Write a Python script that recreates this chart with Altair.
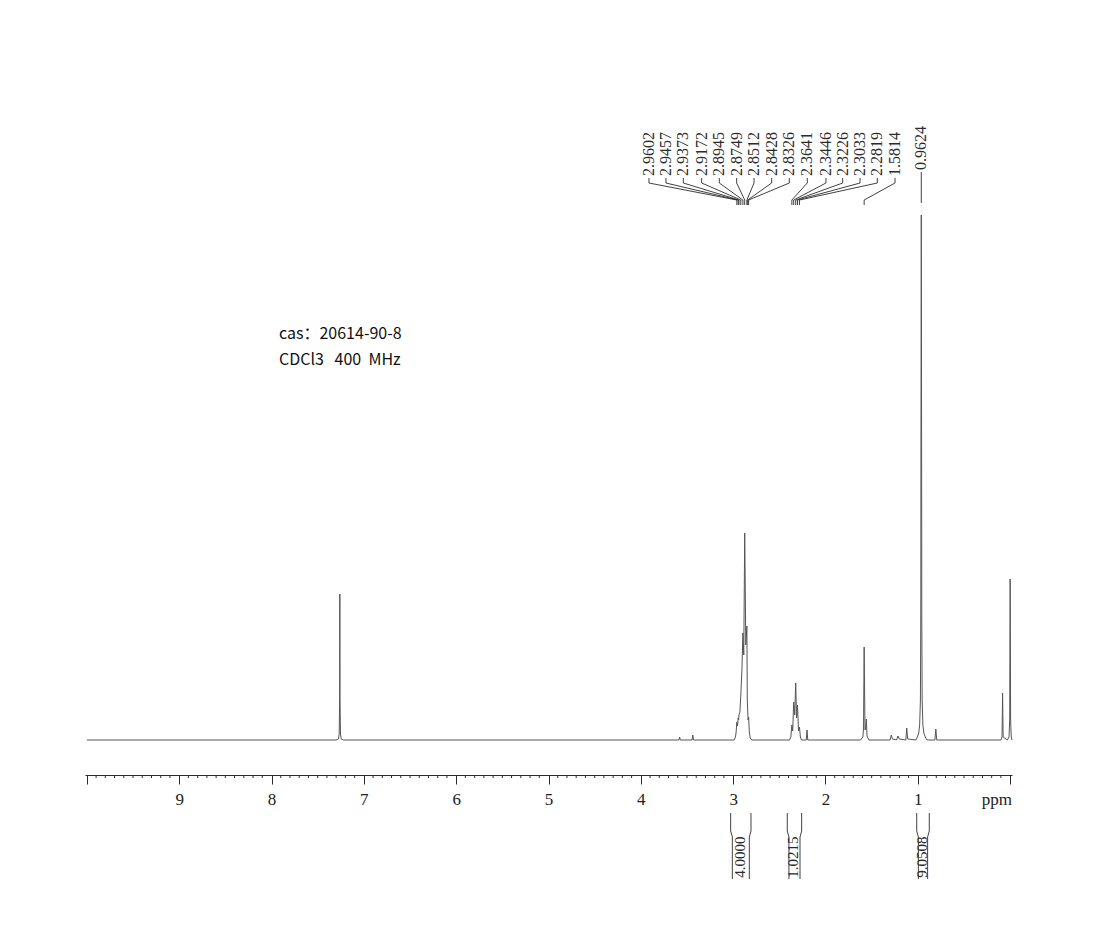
import altair as alt
import pandas as pd

# ---------------- data ----------------
spec_ppm = [10.00, 7.30, 7.275, 7.267, 7.262, 7.26, 7.258, 7.253, 7.245, 7.22,
            3.60, 3.588, 3.58, 3.572, 3.445, 3.437, 3.43, 3.422,
            2.99, 2.975, 2.968, 2.9602, 2.953, 2.9457, 2.941, 2.9373, 2.927, 2.9172,
            2.905, 2.8945, 2.885, 2.8749, 2.863, 2.8512, 2.847, 2.8428, 2.838, 2.8326,
            2.825, 2.815, 2.80,
            2.39, 2.375, 2.3641, 2.355, 2.3446, 2.333, 2.3226, 2.313, 2.3033, 2.292,
            2.2819, 2.272, 2.26, 2.208, 2.2, 2.192,
            1.62, 1.595, 1.588, 1.5814, 1.572, 1.565, 1.558, 1.550, 1.53,
            1.30, 1.287, 1.275, 1.23, 1.215, 1.20, 1.13, 1.12, 1.11,
            1.02, 1.01, 0.99, 0.98, 0.972, 0.968, 0.966, 0.9624, 0.959, 0.957, 0.953,
            0.945, 0.935, 0.915, 0.90, 0.815, 0.805, 0.795,
            0.10, 0.088, 0.082, 0.076, 0.03, 0.012, 0.005, 0.0, -0.005, -0.012, -0.02]
spec_int = [0, 0, 1, 6, 40, 146, 40, 6, 1, 0,
            0, 0, 3, 0, 0, 5, 0, 0,
            0, 3, 8, 18, 14, 22, 20, 25, 28, 45,
            70, 107, 85, 207, 95, 114, 40, 30, 20, 23,
            8, 2, 0,
            0, 3, 15, 9, 38, 25, 57, 22, 35, 9,
            13, 3, 0, 0, 10, 0,
            0, 3, 12, 93, 10, 12, 21, 4, 0,
            0, 5, 1, 0, 4, 1, 0, 12, 1,
            0, 2, 7, 15, 40, 120, 300, 525, 300, 120, 40,
            15, 7, 2, 0, 0, 11, 0,
            0, 3, 47, 3, 0, 3, 20, 161, 20, 3, 0]

peak_labels = ["2.9602", "2.9457", "2.9373", "2.9172", "2.8945", "2.8749", "2.8512",
               "2.8428", "2.8326", "2.3641", "2.3446", "2.3226", "2.3033", "2.2819",
               "1.5814", "0.9624"]
label_slot_ppm = [3.912, 3.728, 3.540, 3.341, 3.150, 2.962, 2.774, 2.583, 2.392,
                  2.197, 1.995, 1.814, 1.626, 1.439, 1.247, 0.9624]

integral_values = ["4.0000", "1.0215", "9.0508"]
integral_from = [3.027, 2.414, 1.012]
integral_to = [2.807, 2.258, 0.876]

major_ticks = list(range(0, 11))
minor_ticks = [round(i * 0.1, 1) for i in range(101) if i % 10]

info_lines = ["cas\uff1a20614-90-8", "CDCl3\u00a0\u00a0\u00a0400\u00a0\u00a0MHz"]

# ---------------- layout ----------------
W, H = 927, 655
xscale = alt.Scale(domain=[10.02, -0.02], nice=False, zero=False)
yscale = alt.Scale(domain=[-35, 620], nice=False, zero=False)
SERIF = "Liberation Serif"
INK = "#2b2b2b"

XAXIS = alt.Axis(values=major_ticks, format="d",
                 labelExpr="datum.value >= 1 && datum.value <= 9 ? datum.label : ''",
                 tickSize=9, tickColor=INK, domainColor=INK, tickWidth=1,
                 domainWidth=1, labelFont=SERIF, labelFontSize=17,
                 labelPadding=7, labelColor="#222222", title=None, grid=False,
                 labelFlush=False, labelOverlap=False)


def X():
    return alt.X("ppm:Q", scale=xscale, axis=XAXIS)


def Y():
    return alt.Y("y:Q", scale=yscale, axis=None)


spec_df = pd.DataFrame({"ppm": spec_ppm, "y": spec_int, "o": range(len(spec_ppm))})

spectrum = alt.Chart(spec_df).mark_line(color="#555555", strokeWidth=1).encode(
    x=X(), y=Y(), order=alt.Order("o:Q"),
)

minor = alt.Chart(pd.DataFrame({"ppm": minor_ticks})).mark_rule(
    color=INK, strokeWidth=1).encode(
    x=X(), y=alt.value(H), y2=alt.value(H + 3),
)

ppm_text = alt.Chart(pd.DataFrame({"ppm": [-0.02], "y": [-65], "t": ["ppm"]})).mark_text(
    align="right", baseline="alphabetic", font=SERIF, fontSize=17, color="#222222").encode(
    x=X(), y=Y(), text="t:N",
)

# peak labels and leader lines
lab_rows, lead_rows = [], []
for i, (lab, slot) in enumerate(zip(peak_labels, label_slot_ppm)):
    pk = float(lab)
    if i < len(peak_labels) - 1:
        lab_rows.append({"ppm": slot, "y": 564, "t": lab})
        for k, (px, py) in enumerate([(slot, 562), (slot, 557), (pk, 540), (pk, 535)]):
            lead_rows.append({"g": i, "o": k, "ppm": px, "y": py})
    else:
        lab_rows.append({"ppm": slot, "y": 570, "t": lab})
        for k, (px, py) in enumerate([(slot, 568), (pk, 537)]):
            lead_rows.append({"g": i, "o": k, "ppm": px, "y": py})

labels = alt.Chart(pd.DataFrame(lab_rows)).mark_text(
    angle=270, align="left", baseline="middle", font=SERIF, fontSize=16, color=INK).encode(
    x=X(), y=Y(), text="t:N",
)

leaders = alt.Chart(pd.DataFrame(lead_rows)).mark_line(color=INK, strokeWidth=0.9).encode(
    x=X(), y=Y(), detail="g:N", order=alt.Order("o:Q"),
)

# integrals
int_rows, int_lab = [], []
inset = 0.018
for j, (val, a, b) in enumerate(zip(integral_values, integral_from, integral_to)):
    for k, (px, py) in enumerate([(a, -73), (a, -91), (a - inset, -97), (a - inset, -139)]):
        int_rows.append({"g": f"{j}L", "o": k, "ppm": px, "y": py})
    for k, (px, py) in enumerate([(b, -73), (b, -91), (b + inset, -97), (b + inset, -139)]):
        int_rows.append({"g": f"{j}R", "o": k, "ppm": px, "y": py})
    int_lab.append({"ppm": (a + b) / 2, "y": -117, "t": val})

int_lines = alt.Chart(pd.DataFrame(int_rows)).mark_line(color=INK, strokeWidth=0.9).encode(
    x=X(), y=Y(), detail="g:N", order=alt.Order("o:Q"),
)

int_text = alt.Chart(pd.DataFrame(int_lab)).mark_text(
    angle=270, align="center", baseline="middle", font=SERIF, fontSize=15, color=INK,
    dy=-1).encode(
    x=X(), y=Y(), text="t:N",
)

info = alt.Chart(pd.DataFrame({"t": info_lines, "yy": [219, 245]})).mark_text(
    align="left", baseline="alphabetic", font="Noto Sans CJK SC", fontSize=16,
    color="#111111").encode(
    x=alt.value(194),
    y=alt.Y("yy:Q", scale=None),
    text="t:N",
)

chart = alt.layer(spectrum, minor, ppm_text, leaders, labels, int_lines, int_text, info).properties(
    width=W, height=H,
    background="white",
    autosize=alt.AutoSizeParams(type="none"),
    padding={"left": 77, "top": 112, "right": 90, "bottom": 130},
).configure_view(strokeWidth=0, stroke="transparent")

chart.save("out.html", embed_options={"renderer": "svg", "actions": False})
